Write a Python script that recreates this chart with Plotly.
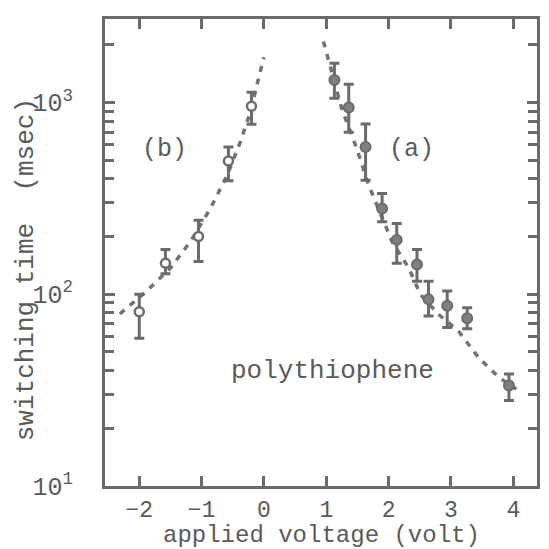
import plotly.graph_objects as go

# ---- data ----
# series (b): open circles, negative voltages
b_x = [-2.0, -1.58, -1.05, -0.57, -0.2]
b_y = [81, 145, 200, 495, 955]
b_hi = [100, 171, 243, 585, 1130]
b_lo = [59, 128, 148, 390, 770]

# series (a): filled circles, positive voltages
a_x = [1.13, 1.36, 1.63, 1.895, 2.13, 2.455, 2.64, 2.94, 3.26, 3.93]
a_y = [1310, 942, 585, 280, 192, 143, 94, 87, 75, 33.4]
a_hi = [1600, 1245, 772, 335, 234, 171, 117, 104, 85, 38.4]
a_lo = [1050, 700, 393, 239, 145, 117, 77, 67, 66, 27.9]

# dashed guide curves
cb_x = [-2.31, -1.88, -1.5, -1.18, -0.86, -0.59, -0.38, -0.22, -0.05, 0.0]
cb_y = [79, 104, 137, 188, 280, 417, 621, 887, 1490, 1720]
ca_x = [0.954, 1.25, 1.49, 1.68, 2.055, 2.323, 2.51, 2.80, 3.12, 3.44, 3.77, 4.05]
ca_y = [2080, 923, 573, 370, 188, 137, 99.6, 78.5, 64.3, 46.8, 36.8, 32]

x_ticks = [-2, -1, 0, 1, 2, 3, 4]
y_major = [10, 100, 1000]
y_major_text = ["10<sup>1</sup>", "10<sup>2</sup>", "10<sup>3</sup>"]
y_minor = [m * d for d in (10, 100, 1000) for m in range(2, 10)]

INK = "#6b6b6b"
TXT = "#5a5a5a"
FONT = "Liberation Mono"

fig = go.Figure()

for cx, cy in ((cb_x, cb_y), (ca_x, ca_y)):
    fig.add_trace(go.Scatter(x=cx, y=cy, mode="lines",
                             line=dict(color="#727272", width=3.5, dash="6px,7px"),
                             hoverinfo="skip", showlegend=False))

fig.add_trace(go.Scatter(
    x=b_x, y=b_y, mode="markers",
    marker=dict(symbol="circle", size=9, color="white", line=dict(color=INK, width=2.5)),
    error_y=dict(type="data", symmetric=False,
                 array=[h - v for h, v in zip(b_hi, b_y)],
                 arrayminus=[v - l for v, l in zip(b_y, b_lo)],
                 color=INK, thickness=3, width=5),
    showlegend=False))

fig.add_trace(go.Scatter(
    x=a_x, y=a_y, mode="markers",
    marker=dict(symbol="circle", size=10, color="#808080", line=dict(color=INK, width=2)),
    error_y=dict(type="data", symmetric=False,
                 array=[h - v for h, v in zip(a_hi, a_y)],
                 arrayminus=[v - l for v, l in zip(a_y, a_lo)],
                 color=INK, thickness=3, width=5),
    showlegend=False))

# the page body adds a small offset, so the figure is 541 px and margins are shifted
fig.update_layout(
    width=541, height=541,
    margin=dict(l=97, r=12, t=8, b=63),
    paper_bgcolor="white", plot_bgcolor="white",
    font=dict(family=FONT, color=TXT, size=25),
    xaxis=dict(range=[-2.55, 4.38], tickmode="array", tickvals=x_ticks,
               ticks="inside", ticklen=10, tickwidth=2.5, tickcolor=INK,
               showline=True, linecolor=INK, linewidth=3, mirror="ticks",
               showgrid=False, zeroline=False,
               tickfont=dict(family=FONT, size=23, color=TXT)),
    yaxis=dict(type="log", range=[1, 3.435], tickmode="array",
               tickvals=y_major, ticktext=y_major_text,
               ticks="inside", ticklen=10, tickwidth=2.5, tickcolor=INK,
               showline=True, linecolor=INK, linewidth=3, mirror="ticks",
               showgrid=False, zeroline=False, ticklabelstandoff=24,
               minor=dict(tickmode="array", tickvals=y_minor, ticks="inside",
                          ticklen=9, tickwidth=2.5, tickcolor=INK, showgrid=False),
               tickfont=dict(family=FONT, size=25, color=TXT)),
    annotations=[
        dict(x=-1.6, y=2.754, xref="x", yref="y", text="(b)", showarrow=False,
             font=dict(family=FONT, size=25, color=TXT)),
        dict(x=2.36, y=2.754, xref="x", yref="y", text="(a)", showarrow=False,
             font=dict(family=FONT, size=25, color=TXT)),
        dict(x=1.1, y=1.6, xref="x", yref="y", text="polythiophene", showarrow=False,
             font=dict(family=FONT, size=26, color=TXT)),
        dict(x=-0.183, y=0.464, xref="paper", yref="paper",
             text="switching time\u00a0\u00a0(msec)", textangle=-90, showarrow=False,
             xanchor="center", yanchor="middle",
             font=dict(family=FONT, size=26, color=TXT)),
        dict(x=0.5, y=-0.1064, xref="paper", yref="paper",
             text="applied voltage (volt)", showarrow=False,
             xanchor="center", yanchor="middle",
             font=dict(family=FONT, size=24, color=TXT)),
    ],
)

fig.write_html("out.html")
